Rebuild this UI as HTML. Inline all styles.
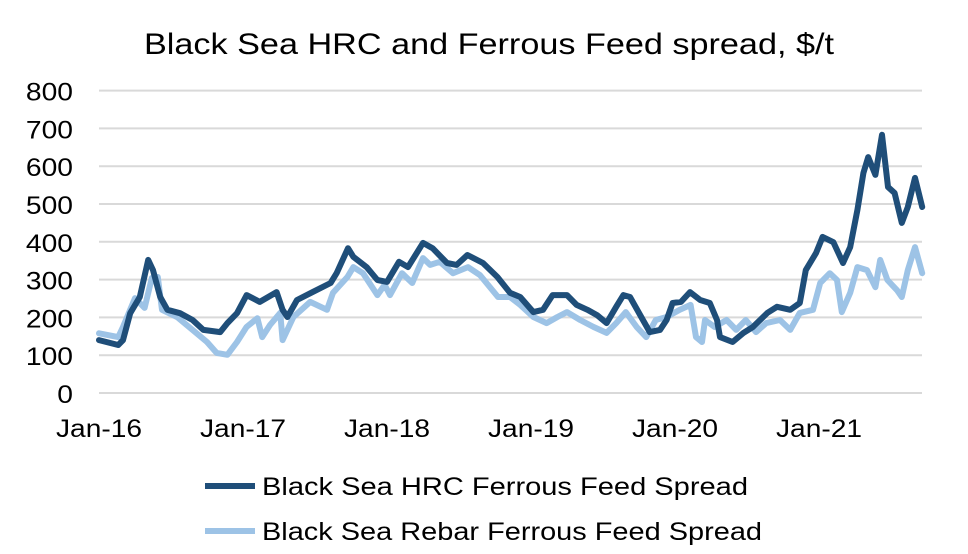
<!DOCTYPE html>
<html><head><meta charset="utf-8"><style>
body{margin:0;background:#fff;width:968px;height:554px;overflow:hidden;font-family:"Liberation Sans",Arial,sans-serif}
svg{display:block}
</style></head><body>
<svg id="chart" width="968" height="554">
<text x="489" y="54" text-anchor="middle" font-size="30" textLength="690" lengthAdjust="spacingAndGlyphs" fill="#000">Black Sea HRC and Ferrous Feed spread, $/t</text>
<g id="grid"></g><g id="yt"></g><g id="xt"></g><g id="series"></g>
<g>
<line x1="205" y1="486" x2="255" y2="486" stroke="#1f4e79" stroke-width="6"/>
<text x="262" y="495" font-size="25" textLength="486" lengthAdjust="spacingAndGlyphs" fill="#000">Black Sea HRC Ferrous Feed Spread</text>
<line x1="205" y1="531" x2="255" y2="531" stroke="#9dc3e6" stroke-width="6"/>
<text x="262" y="540" font-size="25" textLength="500" lengthAdjust="spacingAndGlyphs" fill="#000">Black Sea Rebar Ferrous Feed Spread</text>
</g>
</svg>
<script>
const yTicks=[0,100,200,300,400,500,600,700,800];
const xLabels=["Jan-16","Jan-17","Jan-18","Jan-19","Jan-20","Jan-21"];
const xLabelMonths=[0,12,24,36,48,60];
const hrcMonths=[0,1.6,2,2.6,3.4,4.1,4.5,5.1,5.7,6.75,7.8,8.7,10.1,10.7,11.5,12.3,13.4,14.8,15.3,15.7,16.5,17.8,19.3,19.8,20.75,21.2,22.3,23.2,24,25,25.75,27,27.8,29,29.8,30.7,32,33.2,34.25,35.1,36.2,37,37.8,39,39.8,40.7,41.5,42.3,43.1,43.7,44.25,45.1,45.9,46.75,47.3,47.8,48.5,49.25,50.1,50.9,51.5,51.75,52.8,53.7,54.5,55.7,56.5,57.6,58.4,58.9,59.75,60.3,61.2,62,62.6,63.2,63.7,64.1,64.7,65.25,65.75,66.3,66.9,67.4,68,68.6];
const hrcValues=[140,127,140,211,254,352,325,254,220,211,193,167,161,185,211,259,241,267,220,201,246,267,291,317,383,360,333,299,294,347,333,397,383,344,339,365,344,307,265,254,214,220,259,259,233,220,206,185,228,259,254,206,161,167,193,238,241,267,246,238,193,148,135,159,175,212,228,220,238,325,370,413,399,344,386,484,582,624,577,683,545,529,450,492,569,492];
const rebarMonths=[0,1.6,2,3,3.8,4.4,4.9,5.25,6.5,7.8,9,9.8,10.7,11.5,12.3,13.2,13.6,14.25,15.1,15.3,16.2,17.6,19,19.5,20.7,21.2,22,23.2,23.8,24.25,25.25,26.1,27,27.6,28.4,29.5,30.75,31.75,33.25,34.25,35.1,36.2,37.3,38.2,39,40.1,41.2,42.3,43.1,43.9,44.8,45.6,46.4,47.3,48.4,49.3,49.75,50.25,50.5,51.3,52.3,53.1,53.9,54.75,55.6,56.75,57.6,58.4,59.5,60.1,60.9,61.5,61.9,62.6,63.2,64,64.7,65.1,65.7,66.5,66.9,67.4,68,68.6];
const rebarValues=[158,148,175,251,225,304,307,220,201,167,135,106,101,135,175,198,148,180,212,140,201,241,220,265,307,333,317,259,286,259,317,291,357,339,347,317,333,312,254,254,233,201,185,201,214,193,175,159,185,214,175,148,193,201,220,233,148,135,193,175,193,167,193,161,185,193,167,212,220,291,317,299,214,265,333,325,280,352,299,272,254,325,386,317];
const NS='http://www.w3.org/2000/svg';
const X0=99,PX_PER_MONTH=12,Y0=393,PX_PER_UNIT=0.378;
const xs=m=>X0+m*PX_PER_MONTH, ys=v=>Y0-v*PX_PER_UNIT;
function mk(tag,attrs,parent){const e=document.createElementNS(NS,tag);for(const k in attrs)e.setAttribute(k,attrs[k]);parent.appendChild(e);return e;}
const grid=document.getElementById('grid'),yt=document.getElementById('yt'),xt=document.getElementById('xt'),ser=document.getElementById('series');
yTicks.forEach(v=>{
 if(v>0){const l=mk('line',{x1:X0,x2:922,y1:ys(v),y2:ys(v),stroke:'#d9d9d9','stroke-width':2},grid);
 
 }
 const s=String(v);
 const t=mk('text',{x:73,y:ys(v)+10,'text-anchor':'end','font-size':25,textLength:s.length*15.7,lengthAdjust:'spacingAndGlyphs',fill:'#000'},yt);t.textContent=s;
 
 
});
const ax=mk('line',{x1:X0,x2:922,y1:Y0,y2:Y0,stroke:'#d9d9d9','stroke-width':2},grid);


xLabels.forEach((s,i)=>{const t=mk('text',{x:xs(xLabelMonths[i]),y:437,'text-anchor':'middle','font-size':25,textLength:86,lengthAdjust:'spacingAndGlyphs',fill:'#000'},xt);t.textContent=s;
 
 });
function line(ms,vs,col,name){const d=ms.map((m,i)=>(i?'L':'M')+xs(m).toFixed(1)+','+ys(vs[i]).toFixed(1)).join('');
 const p=mk('path',{d:d,fill:'none',stroke:col,'stroke-width':6,'stroke-linejoin':'round','stroke-linecap':'round'},ser);
 
 }
line(rebarMonths,rebarValues,'#9dc3e6','rebar-spread-line');
line(hrcMonths,hrcValues,'#1f4e79','hrc-spread-line');
</script>
</body></html>
